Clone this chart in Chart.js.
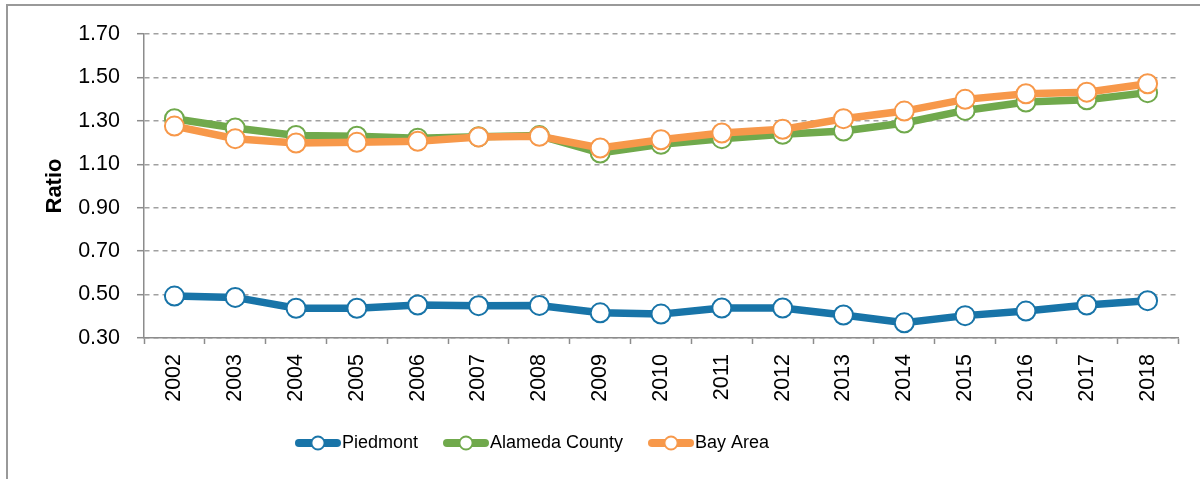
<!DOCTYPE html>
<html>
<head>
<meta charset="utf-8">
<script src="https://cdn.jsdelivr.net/npm/chart.js@4.4.1/dist/chart.umd.min.js"></script>
<style>
html, body { margin: 0; padding: 0; background: #fff; }
</style>
</head>
<body>
<canvas id="myChart" width="1200" height="479"></canvas>
<script>
// data
const years = ['2002', '2003', '2004', '2005', '2006', '2007', '2008', '2009', '2010', '2011', '2012', '2013', '2014', '2015', '2016', '2017', '2018'];
const piedmont = [0.493, 0.487, 0.437, 0.437, 0.452, 0.449, 0.450, 0.416, 0.410, 0.438, 0.438, 0.406, 0.370, 0.403, 0.424, 0.452, 0.472];
const alameda = [1.310, 1.267, 1.233, 1.229, 1.220, 1.227, 1.232, 1.152, 1.192, 1.218, 1.238, 1.253, 1.290, 1.348, 1.387, 1.397, 1.430];
const bayArea = [1.276, 1.218, 1.198, 1.201, 1.206, 1.226, 1.229, 1.175, 1.213, 1.244, 1.261, 1.310, 1.345, 1.399, 1.425, 1.432, 1.471];
const seriesNames = ['Piedmont', 'Alameda County', 'Bay Area'];
const seriesColors = ['#1874a8', '#70a94c', '#f7984a'];

const fontFamily = "'Liberation Sans', Arial, sans-serif";
const axisGrey = '#8c8c8c';

// little line + circle picture for the legend
function legendSymbol(color) {
    const c = document.createElement('canvas');
    c.width = 46;
    c.height = 18;
    const g = c.getContext('2d');
    g.strokeStyle = color;
    g.lineWidth = 8;
    g.lineCap = 'round';
    g.beginPath();
    g.moveTo(4, 9);
    g.lineTo(42, 9);
    g.stroke();
    g.beginPath();
    g.arc(23, 9, 6.5, 0, Math.PI * 2);
    g.fillStyle = '#fff';
    g.fill();
    g.lineWidth = 1.8;
    g.stroke();
    return c;
}
const symbols = seriesColors.map(legendSymbol);

// grey frame on the left and top
const frame = {
    id: 'frame',
    beforeDraw(chart) {
        const ctx = chart.ctx;
        ctx.save();
        ctx.strokeStyle = '#999';
        ctx.lineWidth = 2;
        ctx.beginPath();
        ctx.moveTo(7, 480);
        ctx.lineTo(7, 5);
        ctx.lineTo(1200, 5);
        ctx.stroke();
        ctx.restore();
    }
};

// legend sits a bit left of centre in the original
const legendShift = {
    id: 'legendShift',
    afterLayout(chart) {
        chart.legend.left -= 53;
        chart.legend.right -= 53;
    }
};

function makeDataset(i, values, order) {
    return {
        label: seriesNames[i],
        data: values,
        borderColor: seriesColors[i],
        backgroundColor: seriesColors[i],
        borderWidth: 7.5,
        tension: 0,
        pointRadius: 9.5,
        pointHoverRadius: 9.5,
        pointBorderWidth: 2,
        pointBackgroundColor: '#fff',
        pointBorderColor: seriesColors[i],
        order: order
    };
}

const ctx = document.getElementById('myChart');
new Chart(ctx, {
    type: 'line',
    data: {
        labels: years,
        datasets: [
            makeDataset(0, piedmont, 0),
            makeDataset(1, alameda, 2),
            makeDataset(2, bayArea, 1)
        ]
    },
    options: {
        responsive: false,
        animation: false,
        devicePixelRatio: 1,
        layout: {
            padding: { top: 34, right: 22, bottom: 17, left: 0 }
        },
        plugins: {
            tooltip: { enabled: false },
            legend: {
                position: 'bottom',
                labels: {
                    usePointStyle: true,
                    pointStyleWidth: 30,
                    padding: 33,
                    color: '#000',
                    font: { family: fontFamily, size: 18 },
                    generateLabels(chart) {
                        const items = Chart.defaults.plugins.legend.labels.generateLabels(chart);
                        items.forEach(item => {
                            item.pointStyle = symbols[item.datasetIndex];
                        });
                        items.sort((a, b) => a.datasetIndex - b.datasetIndex);
                        return items;
                    }
                }
            }
        },
        scales: {
            x: {
                offset: true,
                grid: {
                    display: true,
                    drawOnChartArea: false,
                    offset: true,
                    tickLength: 6,
                    tickColor: axisGrey,
                    tickWidth: 1.5
                },
                border: { color: axisGrey, width: 1.5 },
                ticks: {
                    color: '#000',
                    font: { family: fontFamily, size: 21.5 },
                    maxRotation: 90,
                    minRotation: 90,
                    padding: 10,
                    autoSkip: false
                },
                afterFit(scale) {
                    scale.height = 63;
                }
            },
            y: {
                min: 0.3,
                max: 1.7,
                ticks: {
                    stepSize: 0.2,
                    color: '#000',
                    font: { family: fontFamily, size: 21.5 },
                    padding: 17,
                    callback: v => v.toFixed(2)
                },
                grid: {
                    color: '#a0a0a0',
                    lineWidth: 1.4,
                    tickLength: 7,
                    tickColor: axisGrey,
                    tickWidth: 1.5,
                    tickBorderDash: []
                },
                border: { color: axisGrey, width: 1.5, dash: [5, 4] },
                title: {
                    display: true,
                    text: 'Ratio',
                    color: '#000',
                    font: { family: fontFamily, size: 22, weight: 'bold' },
                    padding: { top: 42, bottom: 0 }
                },
                afterFit(scale) {
                    scale.width = 144;
                }
            }
        }
    },
    plugins: [frame, legendShift]
});
</script>
</body>
</html>
